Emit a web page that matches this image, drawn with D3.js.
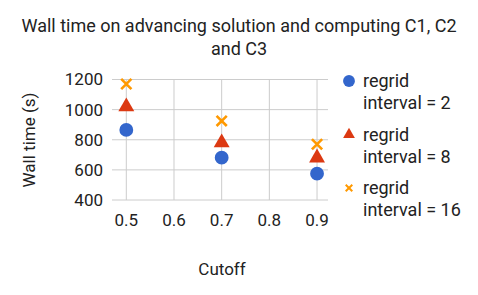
<!DOCTYPE html>
<html>
<head>
<meta charset="utf-8">
<script src="https://cdn.jsdelivr.net/npm/d3@7"></script>
<style>
  body { margin: 0; background: #fff; }
  text { font-family: Roboto, sans-serif; fill: #222; }
</style>
</head>
<body>
<svg id="chart" width="478" height="295"></svg>
<script>
// Daten
var cutoffs = [0.5, 0.7, 0.9];
var regrid2 = [865, 681, 575];
var regrid8 = [1020, 780, 680];
var regrid16 = [1170, 925, 770];
var seriesNames = ["regrid interval = 2", "regrid interval = 8", "regrid interval = 16"];
var xTicks = [0.5, 0.6, 0.7, 0.8, 0.9];
var yTicks = [400, 600, 800, 1000, 1200];

var svg = d3.select("#chart");

var x = d3.scaleLinear().domain([0.47, 0.923]).range([112, 328]);
var y = d3.scaleLinear().domain([400, 1200]).range([200, 79.5]);

// Titel
svg.append("text")
    .attr("x", 239).attr("y", 32)
    .attr("text-anchor", "middle")
    .attr("font-size", "18px")
    .text("Wall time on advancing solution and computing C1, C2");
svg.append("text")
    .attr("x", 239).attr("y", 55)
    .attr("text-anchor", "middle")
    .attr("font-size", "18px")
    .text("and C3");

// Gitter
svg.selectAll(".hgrid")
    .data(yTicks).enter()
    .append("line")
    .attr("x1", x.range()[0]).attr("x2", x.range()[1])
    .attr("y1", d => y(d)).attr("y2", d => y(d))
    .attr("stroke", "#cccccc").attr("stroke-width", 1);

svg.selectAll(".vgrid")
    .data(xTicks).enter()
    .append("line")
    .attr("x1", d => x(d)).attr("x2", d => x(d))
    .attr("y1", y(1200)).attr("y2", y(400))
    .attr("stroke", "#cccccc").attr("stroke-width", 1);

// Achsenbeschriftung
svg.selectAll(".ytick")
    .data(yTicks).enter()
    .append("text")
    .attr("x", 103).attr("y", d => y(d))
    .attr("dy", "0.35em")
    .attr("text-anchor", "end")
    .attr("font-size", "17px")
    .text(d => d);

svg.selectAll(".xtick")
    .data(xTicks).enter()
    .append("text")
    .attr("x", d => x(d)).attr("y", 226)
    .attr("text-anchor", "middle")
    .attr("font-size", "17px")
    .text(d => d3.format(".1f")(d));

svg.append("text")
    .attr("transform", "translate(35,140) rotate(-90)")
    .attr("text-anchor", "middle")
    .attr("font-size", "17px")
    .text("Wall time (s)");

svg.append("text")
    .attr("x", 222).attr("y", 275)
    .attr("text-anchor", "middle")
    .attr("font-size", "17px")
    .text("Cutoff");

// Punkte
var colors = ["#3366cc", "#dc3912", "#ff9900"];
var circle = d3.symbol().type(d3.symbolCircle).size(150);
var tri = d3.symbol().type(d3.symbolTriangle).size(110);
var cross = d3.symbol().type(d3.symbolX).size(70);

svg.selectAll(".s1")
    .data(regrid2).enter()
    .append("path")
    .attr("d", circle)
    .attr("transform", (d, i) => "translate(" + x(cutoffs[i]) + "," + y(d) + ")")
    .attr("fill", colors[0]);

svg.selectAll(".s2")
    .data(regrid8).enter()
    .append("path")
    .attr("d", tri)
    .attr("transform", (d, i) => "translate(" + x(cutoffs[i]) + "," + y(d) + ")")
    .attr("fill", colors[1]);

svg.selectAll(".s3")
    .data(regrid16).enter()
    .append("path")
    .attr("d", cross)
    .attr("transform", (d, i) => "translate(" + x(cutoffs[i]) + "," + y(d) + ")")
    .attr("fill", "none")
    .attr("stroke", colors[2])
    .attr("stroke-width", 2.6);

// Legende
var legend = svg.append("g").attr("transform", "translate(349, 81)");
var symbols = [
    d3.symbol().type(d3.symbolCircle).size(110),
    d3.symbol().type(d3.symbolTriangle).size(60),
    d3.symbol().type(d3.symbolX).size(30)
];

seriesNames.forEach(function (name, i) {
    var g = legend.append("g").attr("transform", "translate(0," + i * 53.5 + ")");
    var p = g.append("path").attr("d", symbols[i]());
    if (i === 2) {
        p.attr("fill", "none").attr("stroke", colors[i]).attr("stroke-width", 2);
    } else {
        p.attr("fill", colors[i]);
    }
    var words = name.split(" ");
    g.append("text")
        .attr("x", 14).attr("y", 0).attr("dy", "0.35em")
        .attr("font-size", "18px")
        .text(words[0]);
    g.append("text")
        .attr("x", 14).attr("y", 22).attr("dy", "0.35em")
        .attr("font-size", "18px")
        .text(words.slice(1).join(" "));
});
</script>
</body>
</html>
